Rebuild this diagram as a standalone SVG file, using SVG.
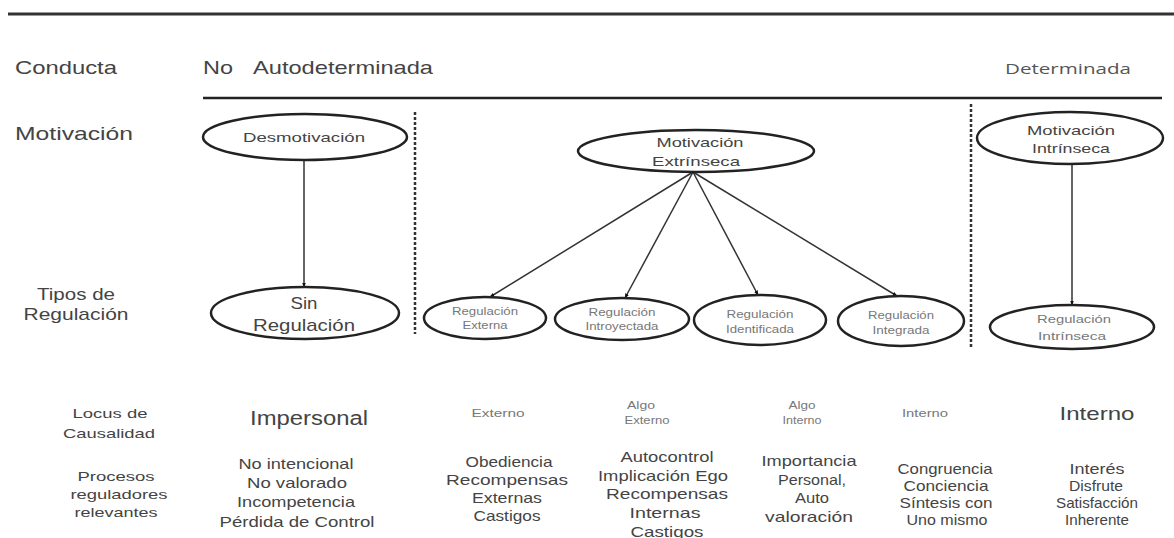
<svg xmlns="http://www.w3.org/2000/svg" width="1174" height="538" viewBox="0 0 1174 538">
<defs>
<marker id="arr" viewBox="0 0 10 10" refX="9" refY="5" markerWidth="5" markerHeight="5" markerUnits="userSpaceOnUse" orient="auto">
<path d="M0,1 L10,5 L0,9 z" fill="#111"/>
</marker>
<style>
text{font-family:"Liberation Sans",Arial,sans-serif;fill:#444;text-anchor:middle}
.hd{font-size:19px;text-anchor:start}
.lb{font-size:17px}
.sm{font-size:13px}
.bd{font-size:15px}
.tn{font-size:10.5px;fill:#777}
.big{font-size:20px}
.det{font-family:"Open Sans","Noto Sans",sans-serif;font-size:15px;text-anchor:start;fill:#555}
.node ellipse{fill:#fff;stroke:#222;stroke-width:2.5}
.rule{stroke:#333;stroke-width:3}
.dash{stroke:#333;stroke-width:2.5;stroke-dasharray:3,2}
.conn line{stroke:#333;stroke-width:1.5;marker-end:url(#arr)}
</style>
</defs>
<rect width="1174" height="538" fill="#fff"/>
<line class="rule" x1="8" y1="14" x2="1174" y2="14"/>
<line class="rule" x1="203" y1="98" x2="1162" y2="98" style="stroke-width:2.5;stroke:#222"/>
<line class="dash" x1="415" y1="112" x2="415" y2="334"/>
<line class="dash" x1="971" y1="104" x2="971" y2="349"/>

<g id="headers">
<text class="hd" x="15" y="74" textLength="102" lengthAdjust="spacingAndGlyphs">Conducta</text>
<text class="hd" y="74"><tspan x="203" textLength="30" lengthAdjust="spacingAndGlyphs">No</tspan> <tspan x="253" textLength="180" lengthAdjust="spacingAndGlyphs">Autodeterminada</tspan></text>
<text class="det" x="1005" y="74" textLength="126" lengthAdjust="spacingAndGlyphs">Determinada</text>
<text class="hd" x="15" y="140" textLength="118" lengthAdjust="spacingAndGlyphs">Motivación</text>
<text class="lb" x="76" y="300" textLength="78" lengthAdjust="spacingAndGlyphs">Tipos de</text>
<text class="lb" x="76" y="320" textLength="105" lengthAdjust="spacingAndGlyphs">Regulación</text>
<text class="sm" x="110" y="418" textLength="75" lengthAdjust="spacingAndGlyphs">Locus de</text>
<text class="sm" x="109" y="438" textLength="92" lengthAdjust="spacingAndGlyphs">Causalidad</text>
<text class="sm" x="116" y="481" textLength="77" lengthAdjust="spacingAndGlyphs">Procesos</text>
<text class="sm" x="119" y="499" textLength="97" lengthAdjust="spacingAndGlyphs">reguladores</text>
<text class="sm" x="116" y="517" textLength="83" lengthAdjust="spacingAndGlyphs">relevantes</text>
</g>

<g class="conn" id="connectors">
<line x1="304" y1="160" x2="304" y2="287"/>
<line x1="693" y1="172" x2="490" y2="297"/>
<line x1="693" y1="172" x2="625" y2="298"/>
<line x1="693" y1="172" x2="758" y2="295"/>
<line x1="693" y1="172" x2="897" y2="296"/>
<line x1="1072" y1="164" x2="1072" y2="305"/>
</g>

<g class="node" id="desmotivacion">
<ellipse cx="305" cy="137" rx="102" ry="23"/>
<text class="sm" x="304" y="142" textLength="122" lengthAdjust="spacingAndGlyphs">Desmotivación</text>
</g>
<g class="node" id="sin-regulacion">
<ellipse cx="305" cy="313" rx="94" ry="26"/>
<text class="lb" x="304" y="309" textLength="27" lengthAdjust="spacingAndGlyphs">Sin</text>
<text class="lb" x="304" y="331" textLength="102" lengthAdjust="spacingAndGlyphs">Regulación</text>
</g>
<g class="node" id="motivacion-extrinseca">
<ellipse cx="696" cy="151" rx="118" ry="21"/>
<text class="sm" x="700" y="147" textLength="87" lengthAdjust="spacingAndGlyphs">Motivación</text>
<text class="sm" x="696" y="166" textLength="88" lengthAdjust="spacingAndGlyphs">Extrínseca</text>
</g>
<g class="node" id="regulacion-externa">
<ellipse cx="485" cy="318" rx="61" ry="21"/>
<text class="tn" x="485" y="315" textLength="66" lengthAdjust="spacingAndGlyphs">Regulación</text>
<text class="tn" x="485" y="329" textLength="45" lengthAdjust="spacingAndGlyphs">Externa</text>
</g>
<g class="node" id="regulacion-introyectada">
<ellipse cx="622" cy="319" rx="67" ry="21"/>
<text class="tn" x="622" y="316" textLength="67" lengthAdjust="spacingAndGlyphs">Regulación</text>
<text class="tn" x="622" y="330" textLength="73" lengthAdjust="spacingAndGlyphs">Introyectada</text>
</g>
<g class="node" id="regulacion-identificada">
<ellipse cx="760" cy="320" rx="66" ry="25"/>
<text class="tn" x="760" y="318" textLength="67" lengthAdjust="spacingAndGlyphs">Regulación</text>
<text class="tn" x="760" y="333" textLength="68" lengthAdjust="spacingAndGlyphs">Identificada</text>
</g>
<g class="node" id="regulacion-integrada">
<ellipse cx="901" cy="321" rx="63" ry="25"/>
<text class="tn" x="901" y="319" textLength="66" lengthAdjust="spacingAndGlyphs">Regulación</text>
<text class="tn" x="901" y="334" textLength="57" lengthAdjust="spacingAndGlyphs">Integrada</text>
</g>
<g class="node" id="motivacion-intrinseca">
<ellipse cx="1070" cy="138" rx="93" ry="26"/>
<text class="sm" x="1071" y="135" textLength="88" lengthAdjust="spacingAndGlyphs">Motivación</text>
<text class="sm" x="1071" y="153" textLength="78" lengthAdjust="spacingAndGlyphs">Intrínseca</text>
</g>
<g class="node" id="regulacion-intrinseca">
<ellipse cx="1072" cy="327" rx="82" ry="22"/>
<text class="tn" x="1074" y="323" textLength="74" lengthAdjust="spacingAndGlyphs">Regulación</text>
<text class="tn" x="1072" y="340" textLength="68" lengthAdjust="spacingAndGlyphs">Intrínseca</text>
</g>

<g id="col-impersonal">
<text class="big" x="309" y="425" textLength="118" lengthAdjust="spacingAndGlyphs">Impersonal</text>
<text class="bd" x="296" y="469" textLength="115" lengthAdjust="spacingAndGlyphs">No intencional</text>
<text class="bd" x="297" y="488" textLength="100" lengthAdjust="spacingAndGlyphs">No valorado</text>
<text class="bd" x="296" y="507" textLength="118" lengthAdjust="spacingAndGlyphs">Incompetencia</text>
<text class="bd" x="297" y="527" textLength="155" lengthAdjust="spacingAndGlyphs">Pérdida de Control</text>
</g>
<g id="col-externa">
<text class="tn" x="498" y="417" textLength="53" lengthAdjust="spacingAndGlyphs">Externo</text>
<text class="bd" x="509" y="467" textLength="87" lengthAdjust="spacingAndGlyphs">Obediencia</text>
<text class="bd" x="507" y="485" textLength="122" lengthAdjust="spacingAndGlyphs">Recompensas</text>
<text class="bd" x="507" y="503" textLength="70" lengthAdjust="spacingAndGlyphs">Externas</text>
<text class="bd" x="507" y="521" textLength="67" lengthAdjust="spacingAndGlyphs">Castigos</text>
</g>
<g id="col-introyectada">
<text class="tn" x="641" y="409" textLength="28" lengthAdjust="spacingAndGlyphs">Algo</text>
<text class="tn" x="647" y="424" textLength="45" lengthAdjust="spacingAndGlyphs">Externo</text>
<text class="bd" x="667" y="462" textLength="93" lengthAdjust="spacingAndGlyphs">Autocontrol</text>
<text class="bd" x="663" y="481" textLength="130" lengthAdjust="spacingAndGlyphs">Implicación Ego</text>
<text class="bd" x="667" y="499" textLength="122" lengthAdjust="spacingAndGlyphs">Recompensas</text>
<text class="bd" x="665" y="518" textLength="71" lengthAdjust="spacingAndGlyphs">Internas</text>
<text class="bd" x="667" y="537" textLength="73" lengthAdjust="spacingAndGlyphs">Castigos</text>
</g>
<g id="col-identificada">
<text class="tn" x="802" y="409" textLength="27" lengthAdjust="spacingAndGlyphs">Algo</text>
<text class="tn" x="802" y="424" textLength="39" lengthAdjust="spacingAndGlyphs">Interno</text>
<text class="bd" x="809" y="466" textLength="95" lengthAdjust="spacingAndGlyphs">Importancia</text>
<text class="bd" x="812" y="485" textLength="68" lengthAdjust="spacingAndGlyphs">Personal,</text>
<text class="bd" x="812" y="503" textLength="34" lengthAdjust="spacingAndGlyphs">Auto</text>
<text class="bd" x="809" y="522" textLength="88" lengthAdjust="spacingAndGlyphs">valoración</text>
</g>
<g id="col-integrada">
<text class="tn" x="925" y="417" textLength="46" lengthAdjust="spacingAndGlyphs">Interno</text>
<text class="bd" x="945" y="474" textLength="95" lengthAdjust="spacingAndGlyphs">Congruencia</text>
<text class="bd" x="946" y="491" textLength="85" lengthAdjust="spacingAndGlyphs">Conciencia</text>
<text class="bd" x="946" y="508" textLength="93" lengthAdjust="spacingAndGlyphs">Síntesis con</text>
<text class="bd" x="947" y="525" textLength="81" lengthAdjust="spacingAndGlyphs">Uno mismo</text>
</g>
<g id="col-intrinseca">
<text class="big" x="1097" y="420" textLength="75" lengthAdjust="spacingAndGlyphs" style="font-size:19px">Interno</text>
<text class="bd" x="1097" y="474" textLength="55" lengthAdjust="spacingAndGlyphs">Interés</text>
<text class="bd" x="1096" y="491" textLength="54" lengthAdjust="spacingAndGlyphs">Disfrute</text>
<text class="bd" x="1097" y="508" textLength="82" lengthAdjust="spacingAndGlyphs">Satisfacción</text>
<text class="bd" x="1097" y="525" textLength="64" lengthAdjust="spacingAndGlyphs">Inherente</text>
</g>
</svg>
